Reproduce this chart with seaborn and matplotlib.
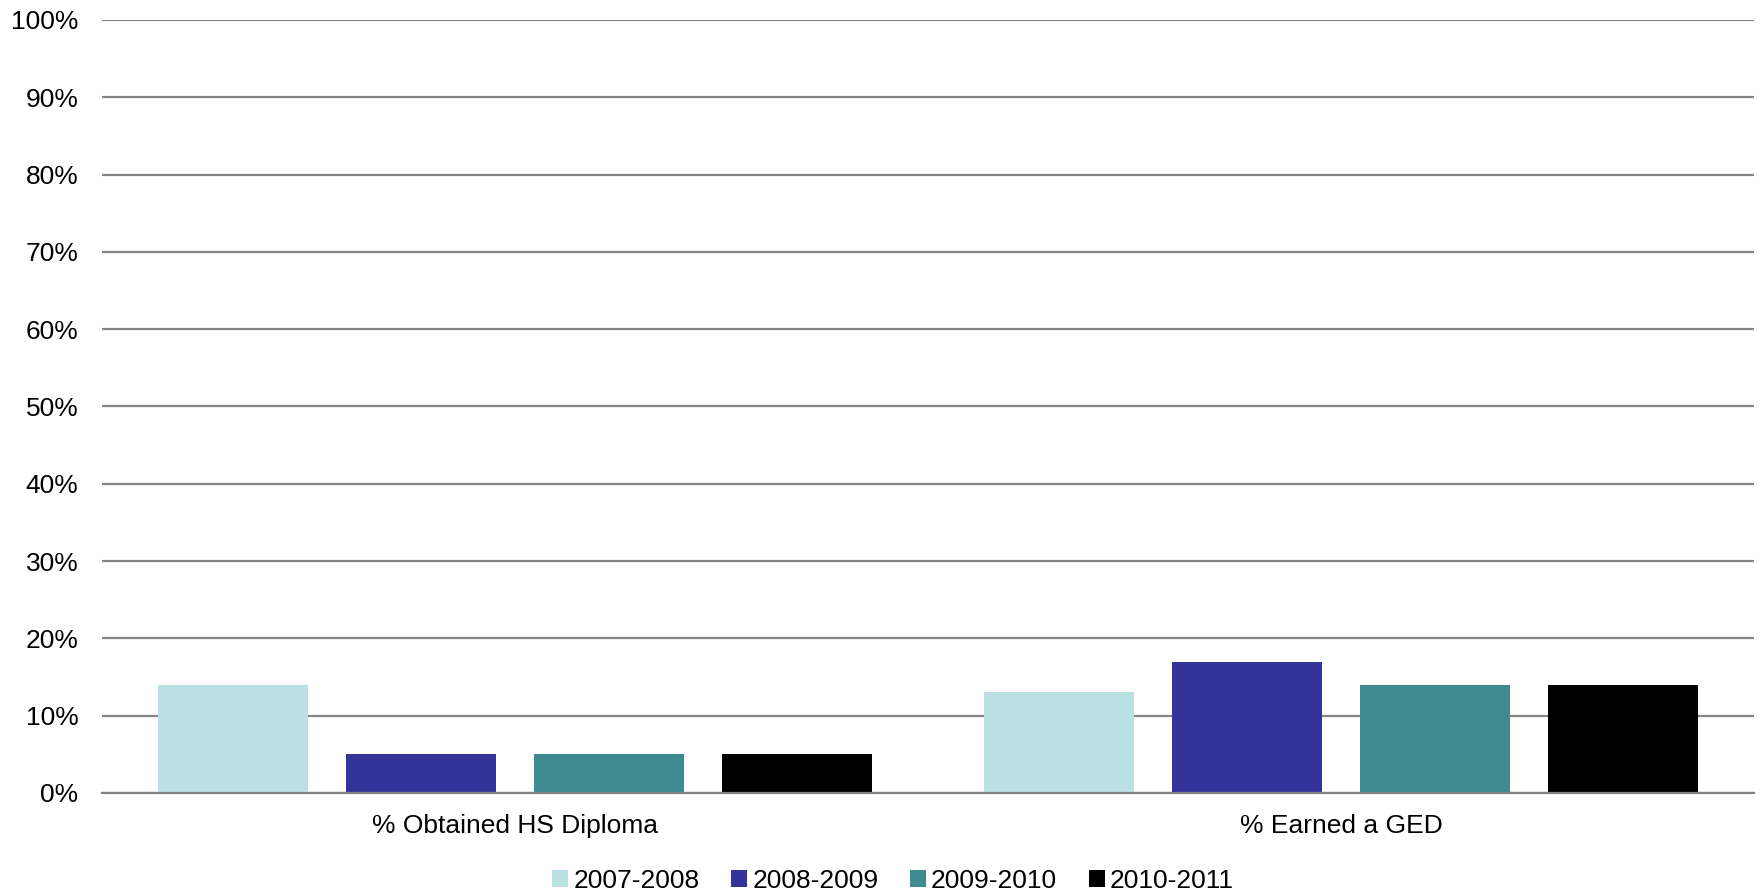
import matplotlib
matplotlib.use('Agg')
import matplotlib.pyplot as plt
import seaborn as sns
import pandas as pd
from matplotlib.ticker import PercentFormatter

# data
outcomes = ['% Obtained HS Diploma', '% Earned a GED']
years = ['2007-2008', '2008-2009', '2009-2010', '2010-2011']
hs_diploma = [14, 5, 5, 5]
ged = [13, 17, 14, 14]
year_colors = ['#BBE0E3', '#333399', '#3E8C92', '#000000']

rows = []
for outcome, vals in zip(outcomes, [hs_diploma, ged]):
    for yr, v in zip(years, vals):
        rows.append({'outcome': outcome, 'year': yr, 'pct': v})
df = pd.DataFrame(rows)

sns.set_style('white')
plt.rcParams['font.family'] = ['Liberation Sans', 'DejaVu Sans']
plt.rcParams['text.color'] = 'black'
plt.rcParams['xtick.color'] = 'black'
plt.rcParams['ytick.color'] = 'black'

fig, ax = plt.subplots(figsize=(17.65, 8.91), dpi=100)
fig.subplots_adjust(left=0.0578, right=0.9938, top=0.9776, bottom=0.11)

sns.barplot(data=df, x='outcome', y='pct', hue='year', hue_order=years,
            palette=year_colors, width=0.91, gap=0.2, saturation=1,
            edgecolor='none', ax=ax)

ax.set_ylim(0, 100)
ax.set_yticks(range(0, 101, 10))
ax.yaxis.set_major_formatter(PercentFormatter(decimals=0))
ax.grid(axis='y', color='#868686', linewidth=1.6)
ax.set_axisbelow(True)
for s in ['top', 'right', 'left']:
    ax.spines[s].set_visible(False)
ax.spines['bottom'].set_color('#868686')
ax.spines['bottom'].set_linewidth(1.6)
ax.tick_params(axis='y', length=0, pad=17, labelsize=19)
ax.tick_params(axis='x', length=0, pad=15, labelsize=19)
ax.set_xlabel('')
ax.set_ylabel('')

handles, labels = ax.get_legend_handles_labels()
ax.get_legend().remove()
fig.legend(handles, labels, loc='lower center', bbox_to_anchor=(0.506, -0.029),
           ncol=4, frameon=False, fontsize=19, handlelength=0.6, handleheight=0.6,
           handletextpad=0.2, columnspacing=1.2)

fig.savefig('out.png', dpi=100)
